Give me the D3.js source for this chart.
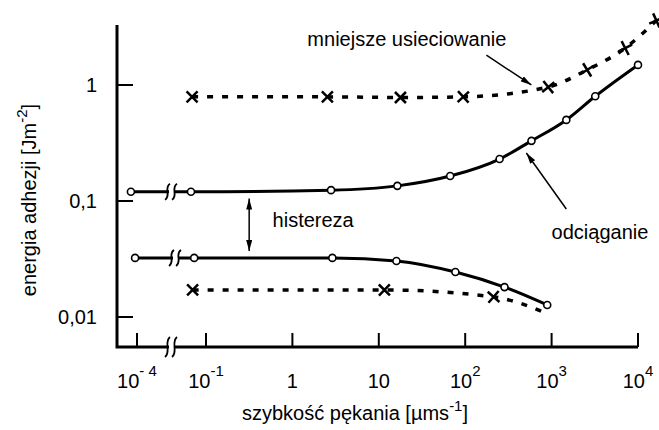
<!DOCTYPE html>
<html>
<head>
<meta charset="utf-8">
<script src="https://cdn.jsdelivr.net/npm/d3@7"></script>
<style>
body { margin: 0; background: #fff; }
text { font-family: "Liberation Sans", Arial, sans-serif; fill: #000; }
</style>
</head>
<body>
<svg id="chart" width="659" height="430"></svg>
<script>
// values (x: um/s, y: J/m^2)
var pullX = [8.5e-5, 0.067, 2.8, 16.4, 67, 250, 585, 1480, 3200, 10000];
var pullY = [0.12, 0.12, 0.124, 0.135, 0.164, 0.23, 0.33, 0.50, 0.80, 1.49];
var approachX = [9.5e-5, 0.073, 2.9, 16, 77, 285, 890];
var approachY = [0.0323, 0.0323, 0.0323, 0.0304, 0.0244, 0.0181, 0.0127];
var lessPullX = [0.069, 2.54, 17.8, 95, 915, 2580, 7100, 16300];
var lessPullY = [0.79, 0.79, 0.78, 0.79, 0.96, 1.35, 2.08, 3.6];
var lessApproachX = [0.07, 11.6, 213, 870];
var lessApproachY = [0.0171, 0.0171, 0.0149, 0.0108];
var lessApproachMarked = 3; // last point only ends the line

var xTicks = [1e-4, 1e-1, 1, 10, 100, 1000, 10000];
var xTickBase = ["10", "10", "1", "10", "10", "10", "10"];
var xTickExp = ["- 4", "-1", "", "", "2", "3", "4"];
var yTicks = [1, 0.1, 0.01];
var yTickLabels = ["1", "0,1", "0,01"];

var svg = d3.select("#chart");

// broken x axis: 10^-4 decade sits left of the break
var xMain = d3.scaleLog().domain([0.1, 10000]).range([206, 638]);
var xLow = d3.scaleLog().domain([1e-4, 1e-3]).range([137, 223.4]);
function xPos(v) { return v < 0.01 ? xLow(v) : xMain(v); }
var y = d3.scaleLog().domain([0.00551, 3.29]).range([347, 25]);
var breakX = (xLow(1e-4) + xMain(0.1)) / 2;

var defs = svg.append("defs");
defs.append("marker")
  .attr("id", "ah")
  .attr("viewBox", "0 0 11 6")
  .attr("refX", 11).attr("refY", 3)
  .attr("markerWidth", 11).attr("markerHeight", 6)
  .attr("markerUnits", "userSpaceOnUse")
  .attr("orient", "auto-start-reverse")
  .append("path").attr("d", "M0,0L11,3L0,6z").attr("fill", "#000");

function zip(xs, ys) { return xs.map(function (d, i) { return [d, ys[i]]; }); }

// axes
svg.append("path")
  .attr("d", "M" + 117 + "," + y.range()[1] + "V" + y.range()[0] + "H" + xMain.range()[1])
  .attr("fill", "none").attr("stroke", "#000").attr("stroke-width", 3)
  .attr("stroke-linejoin", "miter");

svg.selectAll(".ytick").data(yTicks).enter().append("line")
  .attr("x1", 117).attr("x2", 133)
  .attr("y1", function (d) { return y(d); }).attr("y2", function (d) { return y(d); })
  .attr("stroke", "#000").attr("stroke-width", 2);

svg.selectAll(".ylab").data(yTicks).enter().append("text")
  .attr("x", 97).attr("y", function (d) { return y(d) + 7; })
  .attr("text-anchor", "end").attr("font-size", 20)
  .text(function (d, i) { return yTickLabels[i]; });

svg.selectAll(".xtick").data(xTicks).enter().append("line")
  .attr("x1", function (d) { return xPos(d); }).attr("x2", function (d) { return xPos(d); })
  .attr("y1", 347).attr("y2", 333)
  .attr("stroke", "#000").attr("stroke-width", 2);

var xl = svg.selectAll(".xlab").data(xTicks).enter().append("text")
  .attr("x", function (d) { return xPos(d); }).attr("y", 388)
  .attr("text-anchor", "middle").attr("font-size", 20);
xl.append("tspan").text(function (d, i) { return xTickBase[i]; });
xl.append("tspan").attr("font-size", 15).attr("dy", -12)
  .text(function (d, i) { return xTickExp[i]; });

// axis titles
var yt = svg.append("text").attr("transform", "translate(36,200) rotate(-90)")
  .attr("text-anchor", "middle").attr("font-size", 20);
yt.append("tspan").text("energia adhezji [Jm");
yt.append("tspan").attr("font-size", 15).attr("dy", -9).text("-2");
yt.append("tspan").attr("dy", 9).text("]");

var xt = svg.append("text").attr("x", 355).attr("y", 420)
  .attr("text-anchor", "middle").attr("font-size", 20);
xt.append("tspan").text("szybkość pękania [µms");
xt.append("tspan").attr("font-size", 15).attr("dy", -9).text("-1");
xt.append("tspan").attr("dy", 9).text("]");

// series
var line = d3.line()
  .x(function (d) { return xPos(d[0]); })
  .y(function (d) { return y(d[1]); })
  .curve(d3.curveMonotoneX);

var pull = zip(pullX, pullY), approach = zip(approachX, approachY);
var lessPull = zip(lessPullX, lessPullY), lessApproach = zip(lessApproachX, lessApproachY);

svg.append("path").attr("d", line(pull))
  .attr("fill", "none").attr("stroke", "#000").attr("stroke-width", 3);
svg.append("path").attr("d", line(approach))
  .attr("fill", "none").attr("stroke", "#000").attr("stroke-width", 3);
svg.append("path").attr("d", line(lessPull))
  .attr("fill", "none").attr("stroke", "#000").attr("stroke-width", 3.5)
  .attr("stroke-dasharray", "6,9");
svg.append("path").attr("d", line(lessApproach))
  .attr("fill", "none").attr("stroke", "#000").attr("stroke-width", 3.5)
  .attr("stroke-dasharray", "6,9");

// break symbols on the axis and on the two solid curves
function breakMark(cx, cy, h) {
  var g = svg.append("g").attr("transform", "translate(" + cx + "," + cy + ")");
  g.append("rect").attr("x", -2.5).attr("y", -3).attr("width", 5).attr("height", 6).attr("fill", "#fff");
  [-4, 3].forEach(function (dx) {
    g.append("path")
      .attr("d", "M" + (dx + 2.5) + "," + (-h / 2) + "C" + (dx - 4) + "," + (-h / 4) + " " +
        (dx + 4) + "," + (h / 4) + " " + (dx - 2.5) + "," + (h / 2))
      .attr("fill", "none").attr("stroke", "#000").attr("stroke-width", 1.8);
  });
}
breakMark(breakX, 347, 20);
breakMark(breakX, y(pull[0][1]), 16);
breakMark(breakX + 4, y(approach[0][1]), 16);

// markers
function circles(data) {
  svg.selectAll(null).data(data).enter().append("circle")
    .attr("cx", function (d) { return xPos(d[0]); })
    .attr("cy", function (d) { return y(d[1]); })
    .attr("r", 3.5).attr("fill", "#fff").attr("stroke", "#000").attr("stroke-width", 1.6);
}
circles(pull);
circles(approach);

function crosses(data, n) {
  var pts = data.map(function (d) { return [xPos(d[0]), y(d[1])]; });
  svg.selectAll(null).data(pts.slice(0, n)).enter().append("path")
    .attr("d", "M-5.5,-5.5L5.5,5.5M-5.5,5.5L5.5,-5.5")
    .attr("transform", function (d, i) {
      var a = pts[Math.max(i - 1, 0)], b = pts[Math.min(i + 1, pts.length - 1)];
      var ang = Math.atan2(b[1] - a[1], b[0] - a[0]) * 180 / Math.PI;
      return "translate(" + d[0] + "," + d[1] + ") rotate(" + (-ang * 0.5) + ")";
    })
    .attr("fill", "none").attr("stroke", "#000").attr("stroke-width", 2.5);
}
crosses(lessPull, lessPull.length);
crosses(lessApproach, lessApproachMarked);

// annotations
function arrow(p0, p1, both) {
  svg.append("line")
    .attr("x1", xPos(p0[0])).attr("y1", y(p0[1]))
    .attr("x2", xPos(p1[0])).attr("y2", y(p1[1]))
    .attr("stroke", "#000").attr("stroke-width", 1.5)
    .attr("marker-end", "url(#ah)")
    .attr("marker-start", both ? "url(#ah)" : null);
}
arrow([176, 1.81], [583, 1.0]);
arrow([1480, 0.0853], [510, 0.259]);
arrow([0.316, 0.105], [0.316, 0.037], true);

svg.append("text").attr("x", xPos(1.49)).attr("y", y(2.17)).attr("font-size", 20)
  .text("mniejsze usieciowanie");
svg.append("text").attr("x", xPos(0.59)).attr("y", y(0.0597)).attr("font-size", 20)
  .text("histereza");
svg.append("text").attr("x", xPos(1000)).attr("y", y(0.047)).attr("font-size", 20)
  .text("odciąganie");
</script>
</body>
</html>
